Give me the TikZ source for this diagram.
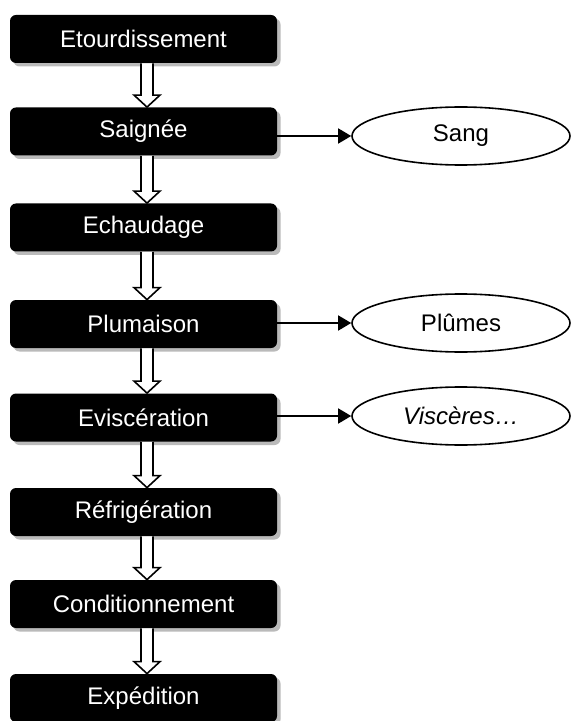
\documentclass[tikz,border=0pt]{standalone}
\usepackage{fontspec}
\setmainfont{Liberation Sans}
\usetikzlibrary{shapes.geometric,shadows,arrows.meta}

% fleche creuse entre deux etapes
\newcommand{\flechecreuse}[2]{%
  \draw[creuse] ([xshift=-1.25pt]#1.south) -- ([xshift=-1.25pt,yshift=6pt]#2.north)
    -- ([xshift=-4.75pt,yshift=6pt]#2.north) -- ([xshift=1.75pt]#2.north)
    -- ([xshift=8.25pt,yshift=6pt]#2.north) -- ([xshift=4.75pt,yshift=6pt]#2.north)
    -- ([xshift=4.75pt]#1.south);}

\begin{document}
\begin{tikzpicture}[x=0.5pt,y=-0.5pt,
    etape/.style={rectangle, rounded corners=3pt, fill=black, text=white,
        minimum width=133.5pt, minimum height=24pt, inner sep=0pt,
        font=\fontsize{12}{14}\selectfont,
        drop shadow={shadow xshift=1.75pt, shadow yshift=-1.75pt, fill=black!27, opacity=1}},
    dechet/.style={ellipse, draw, line width=0.8pt, fill=white,
        minimum width=109pt, minimum height=29pt, inner sep=0pt,
        font=\fontsize{12}{14}\selectfont},
    creuse/.style={draw, fill=white, line width=0.8pt},
    sortie/.style={line width=0.8pt, -{Triangle[length=6.5pt,width=7.5pt]}}]

        \useasboundingbox (0,0) rectangle (571,721);

        \node[etape] (etourd) at (143.5, 39) {Etourdissement};
        \node[etape] (saignee) at (143.5, 131.5) {Saignée};
        \node[etape] (echaud) at (143.5, 227.5) {Echaudage};
        \node[etape] (plum) at (143.5, 324) {Plumaison};
        \node[etape] (evisc) at (143.5, 417.5) {Eviscération};
        \node[etape] (refrig) at (143.5, 512) {Réfrigération};
        \node[etape] (condit) at (143.5, 604) {Conditionnement};
        \node[etape] (exped) at (143.5, 698) {Expédition};

        \node[dechet] (sang) at (461, 136) {Sang};
        \node[dechet] (plumes) at (461, 323) {Plûmes};
        \node[dechet] (visceres) at (461, 416) {\textit{Viscères…}};

        \flechecreuse{etourd}{saignee}
        \flechecreuse{saignee}{echaud}
        \flechecreuse{echaud}{plum}
        \flechecreuse{plum}{evisc}
        \flechecreuse{evisc}{refrig}
        \flechecreuse{refrig}{condit}
        \flechecreuse{condit}{exped}

        \draw[sortie] (saignee.east |- sang.west) -- (sang.west);
        \draw[sortie] (plum.east |- plumes.west) -- (plumes.west);
        \draw[sortie] (evisc.east |- visceres.west) -- (visceres.west);

\end{tikzpicture}
\end{document}
